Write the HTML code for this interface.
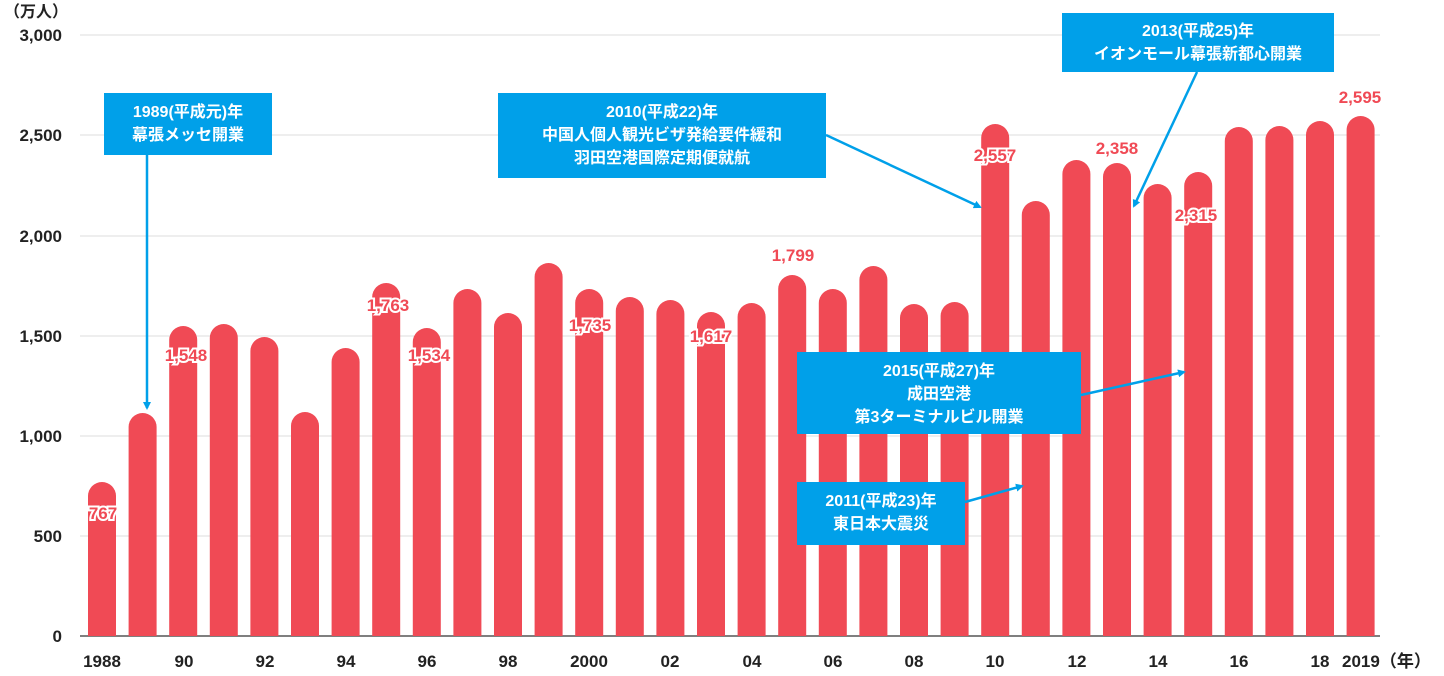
<!DOCTYPE html>
<html><head><meta charset="utf-8"><style>
html,body{margin:0;padding:0;background:#fff;}
svg{display:block;font-family:"Liberation Sans","Noto Sans CJK JP",sans-serif;font-weight:bold;}
.y{font-size:17px;fill:#222;text-anchor:end}
.x{font-size:17px;fill:#222;text-anchor:middle}
.v{font-size:17px;fill:#f04a55;stroke:#fff;stroke-width:4px;paint-order:stroke;text-anchor:middle}
.b{fill:#00a0e9}
.bt{font-size:16px;fill:#fff;text-anchor:middle}
.ar{stroke:#00a0e9;stroke-width:2.5;fill:none}
</style></head><body>
<svg width="1444" height="676" viewBox="0 0 1444 676">
<defs><marker id="m" markerWidth="8" markerHeight="8" refX="6" refY="4" orient="auto" markerUnits="userSpaceOnUse"><path d="M0,0 L8,4 L0,8 Z" fill="#00a0e9"/></marker></defs>
<g stroke="#ddd" stroke-width="1">
<line x1="80" y1="35" x2="1380" y2="35"/><line x1="80" y1="135" x2="1380" y2="135"/><line x1="80" y1="236" x2="1380" y2="236"/><line x1="80" y1="336" x2="1380" y2="336"/><line x1="80" y1="436" x2="1380" y2="436"/><line x1="80" y1="536" x2="1380" y2="536"/>
</g>
<line x1="80" y1="636" x2="1380" y2="636" stroke="#555" stroke-width="1.5"/>
<text x="4" y="17" style="font-size:16px;fill:#222">（万人）</text>
<text class="y" x="62" y="41">3,000</text><text class="y" x="62" y="141">2,500</text><text class="y" x="62" y="242">2,000</text><text class="y" x="62" y="342">1,500</text><text class="y" x="62" y="442">1,000</text><text class="y" x="62" y="542">500</text><text class="y" x="62" y="642">0</text>
<g fill="#f04a55">
<path d="M88,636V496a14,14 0 0 1 28,0V636Z"/>
<path d="M128.6,636V427a14,14 0 0 1 28,0V636Z"/>
<path d="M169.2,636V340a14,14 0 0 1 28,0V636Z"/>
<path d="M209.8,636V338a14,14 0 0 1 28,0V636Z"/>
<path d="M250.4,636V351a14,14 0 0 1 28,0V636Z"/>
<path d="M291,636V426a14,14 0 0 1 28,0V636Z"/>
<path d="M331.6,636V362a14,14 0 0 1 28,0V636Z"/>
<path d="M372.2,636V297a14,14 0 0 1 28,0V636Z"/>
<path d="M412.8,636V342a14,14 0 0 1 28,0V636Z"/>
<path d="M453.4,636V303a14,14 0 0 1 28,0V636Z"/>
<path d="M494,636V327a14,14 0 0 1 28,0V636Z"/>
<path d="M534.6,636V277a14,14 0 0 1 28,0V636Z"/>
<path d="M575.2,636V303a14,14 0 0 1 28,0V636Z"/>
<path d="M615.8,636V311a14,14 0 0 1 28,0V636Z"/>
<path d="M656.4,636V314a14,14 0 0 1 28,0V636Z"/>
<path d="M697,636V326a14,14 0 0 1 28,0V636Z"/>
<path d="M737.6,636V317a14,14 0 0 1 28,0V636Z"/>
<path d="M778.2,636V289a14,14 0 0 1 28,0V636Z"/>
<path d="M818.8,636V303a14,14 0 0 1 28,0V636Z"/>
<path d="M859.4,636V280a14,14 0 0 1 28,0V636Z"/>
<path d="M900,636V318a14,14 0 0 1 28,0V636Z"/>
<path d="M940.6,636V316a14,14 0 0 1 28,0V636Z"/>
<path d="M981.2,636V138a14,14 0 0 1 28,0V636Z"/>
<path d="M1021.8,636V215a14,14 0 0 1 28,0V636Z"/>
<path d="M1062.4,636V174a14,14 0 0 1 28,0V636Z"/>
<path d="M1103,636V177a14,14 0 0 1 28,0V636Z"/>
<path d="M1143.6,636V198a14,14 0 0 1 28,0V636Z"/>
<path d="M1184.2,636V186a14,14 0 0 1 28,0V636Z"/>
<path d="M1224.8,636V141a14,14 0 0 1 28,0V636Z"/>
<path d="M1265.4,636V140a14,14 0 0 1 28,0V636Z"/>
<path d="M1306,636V135a14,14 0 0 1 28,0V636Z"/>
<path d="M1346.6,636V130a14,14 0 0 1 28,0V636Z"/>
</g>
<text class="v" x="103" y="519">767</text>
<text class="v" x="186" y="361">1,548</text>
<text class="v" x="388" y="311">1,763</text>
<text class="v" x="429" y="361">1,534</text>
<text class="v" x="590" y="331">1,735</text>
<text class="v" x="711" y="342">1,617</text>
<text class="v" x="793" y="261">1,799</text>
<text class="v" x="995" y="161">2,557</text>
<text class="v" x="1117" y="154">2,358</text>
<text class="v" x="1196" y="221">2,315</text>
<text class="v" x="1360" y="103">2,595</text>
<text class="x" x="102" y="667">1988</text><text class="x" x="184" y="667">90</text><text class="x" x="265" y="667">92</text><text class="x" x="346" y="667">94</text><text class="x" x="427" y="667">96</text><text class="x" x="508" y="667">98</text><text class="x" x="589" y="667">2000</text><text class="x" x="670" y="667">02</text><text class="x" x="752" y="667">04</text><text class="x" x="833" y="667">06</text><text class="x" x="914" y="667">08</text><text class="x" x="995" y="667">10</text><text class="x" x="1077" y="667">12</text><text class="x" x="1158" y="667">14</text><text class="x" x="1239" y="667">16</text><text class="x" x="1320" y="667">18</text><text class="x" x="1342" y="667" style="text-anchor:start">2019（年）</text>
<line class="ar" x1="147" y1="155" x2="147" y2="408" marker-end="url(#m)"/>
<line class="ar" x1="826" y1="135" x2="980" y2="207" marker-end="url(#m)"/>
<line class="ar" x1="1197" y1="72" x2="1134" y2="206" marker-end="url(#m)"/>
<line class="ar" x1="1081" y1="395" x2="1184" y2="372" marker-end="url(#m)"/>
<line class="ar" x1="965" y1="502" x2="1022" y2="486" marker-end="url(#m)"/>
<rect class="b" x="104" y="93" width="168" height="62"/>
<text class="bt" x="188" y="117">1989(平成元)年</text><text class="bt" x="188" y="140">幕張メッセ開業</text>
<rect class="b" x="498" y="93" width="328" height="85"/>
<text class="bt" x="662" y="117">2010(平成22)年</text><text class="bt" x="662" y="140">中国人個人観光ビザ発給要件緩和</text><text class="bt" x="662" y="163">羽田空港国際定期便就航</text>
<rect class="b" x="1062" y="13" width="272" height="59"/>
<text class="bt" x="1198" y="36">2013(平成25)年</text><text class="bt" x="1198" y="59">イオンモール幕張新都心開業</text>
<rect class="b" x="797" y="352" width="284" height="82"/>
<text class="bt" x="939" y="376">2015(平成27)年</text><text class="bt" x="939" y="399">成田空港</text><text class="bt" x="939" y="422">第3ターミナルビル開業</text>
<rect class="b" x="797" y="482" width="168" height="63"/>
<text class="bt" x="881" y="506">2011(平成23)年</text><text class="bt" x="881" y="529">東日本大震災</text>
</svg>
</body></html>
